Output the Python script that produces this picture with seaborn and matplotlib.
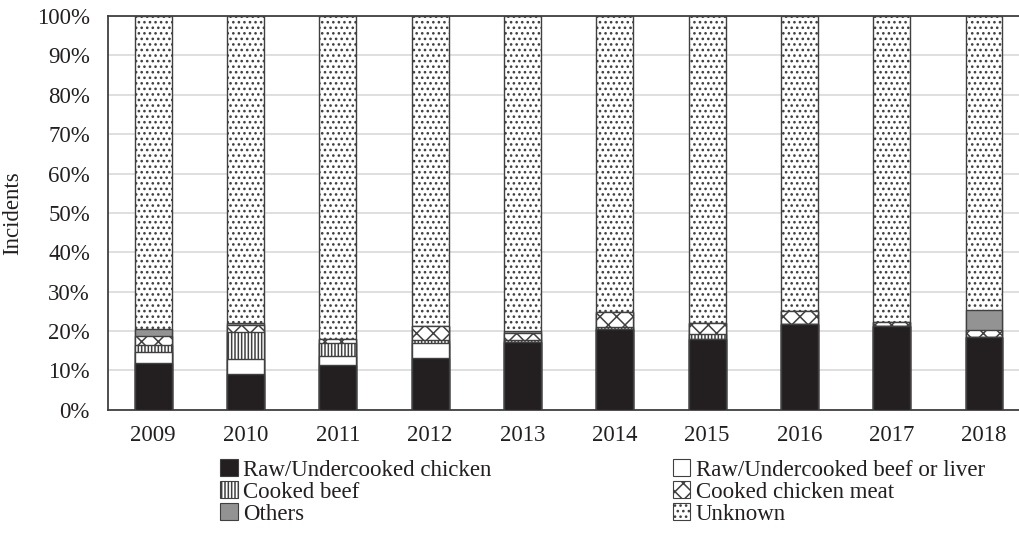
import numpy as np
import pandas as pd
import seaborn as sns
import matplotlib.pyplot as plt
from matplotlib.patches import Patch
from matplotlib.ticker import PercentFormatter

years = ["2009", "2010", "2011", "2012", "2013", "2014", "2015", "2016", "2017", "2018"]

# shares of incidents (%) per year, bottom to top
raw_chicken    = [12.0,  9.1, 11.5, 13.2, 17.3, 20.5, 18.0, 21.7, 21.3, 18.4]
raw_beef       = [ 2.6,  3.9,  2.3,  3.8,  0.0,  0.0,  0.0,  0.0,  0.0,  0.0]
cooked_beef    = [ 1.9,  6.7,  3.3,  0.7,  0.4,  0.6,  1.2,  0.0,  0.0,  0.0]
cooked_chicken = [ 2.2,  1.8,  0.9,  3.5,  1.9,  3.8,  2.9,  3.4,  1.1,  2.0]
others         = [ 1.8,  0.6,  0.0,  0.0,  0.5,  0.0,  0.0,  0.0,  0.0,  4.9]

series = {
    "Raw/Undercooked chicken": raw_chicken,
    "Raw/Undercooked beef or liver": raw_beef,
    "Cooked beef": cooked_beef,
    "Cooked chicken meat": cooked_chicken,
    "Others": others,
}
styles = {
    "Raw/Undercooked chicken": ("#231f20", ""),
    "Raw/Undercooked beef or liver": ("white", ""),
    "Cooked beef": ("white", "|||||"),
    "Cooked chicken meat": ("white", "xx"),
    "Others": ("#939393", ""),
    "Unknown": ("white", "..."),
}

df = pd.DataFrame(series, index=years)
df["Unknown"] = 100 - df.sum(axis=1)
cum = df.cumsum(axis=1)

sns.set_theme(style="white")
plt.rcParams["font.family"] = ["Liberation Serif", "DejaVu Serif"]
plt.rcParams["hatch.linewidth"] = 1.1
plt.rcParams["hatch.color"] = "#404040"

fig = plt.figure(figsize=(10.19, 5.33), dpi=100)
ax = fig.add_axes([0.106, 0.231, 0.904, 0.739])

edge = "#404040"
# draw cumulative bars from the top down so each lower one covers the rest
for col in reversed(df.columns):
    color, hatch = styles[col]
    sns.barplot(x=years, y=cum[col].values, ax=ax, color=color, width=0.4,
                edgecolor=edge, linewidth=1.0, hatch=hatch, saturation=1,
                zorder=3)

ax.set_ylim(0, 100)
ax.set_xlim(-0.49, 9.49)
ax.yaxis.set_major_locator(plt.MultipleLocator(10))
ax.yaxis.set_major_formatter(PercentFormatter(decimals=0))
ax.grid(axis="y", color="#d9d9d9", linewidth=1.2, zorder=0)
ax.set_axisbelow(True)
for s in ["left", "top", "bottom", "right"]:
    ax.spines[s].set_color(edge)
    ax.spines[s].set_linewidth(1.3)
ax.tick_params(axis="y", length=0, pad=13, labelsize=16.5, colors="#231f20")
ax.tick_params(axis="x", length=0, pad=11, labelsize=16.5, colors="#231f20")
ax.set_xlabel("")
ax.set_ylabel("Incidents", fontsize=16.5, color="#231f20", labelpad=10)

order = ["Raw/Undercooked chicken", "Cooked beef", "Others",
         "Raw/Undercooked beef or liver", "Cooked chicken meat", "Unknown"]
handles = [Patch(facecolor=styles[k][0], hatch=styles[k][1], edgecolor=edge,
                 linewidth=0.8, label=k) for k in order]
fig.legend(handles=handles, ncol=2, frameon=False, loc="upper left",
           bbox_to_anchor=(0.205, 0.16), fontsize=16.5, handlelength=0.75,
           handleheight=0.75, handletextpad=0.25, columnspacing=7.9,
           labelspacing=0.03, borderpad=0, labelcolor="#231f20")

fig.savefig("out.png", dpi=100)
